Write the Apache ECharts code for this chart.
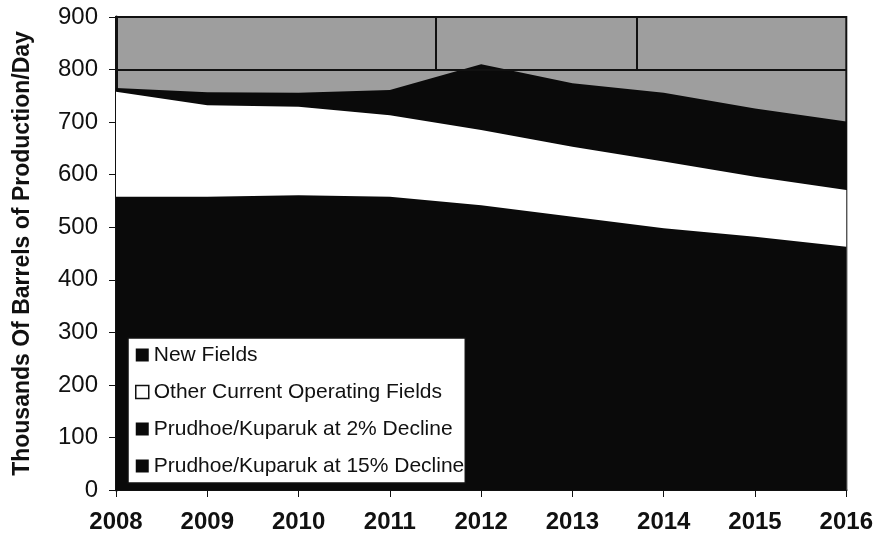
<!DOCTYPE html>
<html>
<head>
<meta charset="utf-8">
<script src="https://cdn.jsdelivr.net/npm/echarts@6/dist/echarts.min.js"></script>
<style>
  html, body { margin: 0; padding: 0; background: #fff; }
  #chart { width: 876px; height: 548px; }
</style>
</head>
<body>
<div id="chart"></div>
<script>
var years = [2008, 2009, 2010, 2011, 2012, 2013, 2014, 2015, 2016];
// stacked amounts, thousands of barrels / day
var prudhoe2 = [558, 558, 561, 558, 542, 520, 498, 482, 463];
var otherFields = [200, 174, 168, 155, 143, 133, 127, 114, 108];
var newFields = [7, 25, 27, 48, 125, 121, 131, 130, 130];
var prudhoe15 = [];
var yTicks = [0, 100, 200, 300, 400, 500, 600, 700, 800, 900];

// running totals so each band can be drawn as a filled area from zero
function addUp(a, b){
    return a.map(function(v, i){ return v + b[i]; });
}
var topOther = addUp(prudhoe2, otherFields);
var topNew = addUp(topOther, newFields);

function pairs(vals){
    return vals.map(function(v, i){ return [years[i], v]; });
}

var font = 'Liberation Sans, Arial, sans-serif';

function area(name, vals, color){
    return {
        name: name,
        type: 'line',
        data: pairs(vals),
        symbol: 'none',
        lineStyle: { width: 0, color: color },
        itemStyle: { color: color },
        areaStyle: { color: color, opacity: 1, origin: 'start' },
        emphasis: { disabled: true }
    };
}

var chartDom = document.getElementById('chart');
var myChart = echarts.init(chartDom);

var topBand = area('New Fields', topNew, '#0a0a0a');
topBand.markLine = {
    silent: true,
    symbol: 'none',
    label: { show: false },
    lineStyle: { color: '#111', width: 2, type: 'solid' },
    data: [
        { yAxis: 800 },
        [{ coord: [2011.5, 800] }, { coord: [2011.5, 900] }],
        [{ coord: [2013.7, 800] }, { coord: [2013.7, 900] }]
    ]
};

var option = {
    animation: false,
    grid: {
        left: 116, right: 25, top: 17, bottom: 58,
        show: true,
        backgroundColor: '#9e9e9e',
        borderColor: '#111',
        borderWidth: 2
    },
    legend: {
        orient: 'vertical',
        left: 128,
        top: 338,
        padding: [6, 1, 6, 7],
        backgroundColor: '#fff',
        borderColor: '#111',
        borderWidth: 1.5,
        borderRadius: 0,
        itemWidth: 13,
        itemHeight: 13,
        itemGap: 15,
        icon: 'rect',
        textStyle: { fontFamily: font, fontSize: 21, lineHeight: 22, color: '#111' },
        data: [
            { name: 'New Fields', itemStyle: { color: '#0a0a0a' } },
            { name: 'Other Current Operating Fields', itemStyle: { color: '#fff', borderColor: '#111', borderWidth: 1.5 } },
            { name: 'Prudhoe/Kuparuk at 2% Decline', itemStyle: { color: '#0a0a0a' } },
            { name: 'Prudhoe/Kuparuk at 15% Decline', itemStyle: { color: '#0a0a0a' } }
        ]
    },
    xAxis: {
        type: 'value',
        min: years[0],
        max: years[years.length - 1],
        interval: 1,
        splitLine: { show: false },
        axisLine: { show: true, lineStyle: { color: '#111', width: 2 } },
        axisTick: { show: true, length: 7, lineStyle: { color: '#111' } },
        axisLabel: {
            margin: 20,
            fontFamily: font, fontSize: 24, fontWeight: 'bold', color: '#111',
            formatter: function(v){ return String(v); }
        }
    },
    yAxis: {
        type: 'value',
        min: yTicks[0],
        max: yTicks[yTicks.length - 1],
        interval: 100,
        name: 'Thousands Of Barrels of Production/Day',
        nameLocation: 'middle',
        nameGap: 82,
        nameRotate: 90,
        nameTextStyle: { fontFamily: font, fontSize: 23, fontWeight: 'bold', color: '#111' },
        splitLine: { show: false },
        axisLine: { show: true, lineStyle: { color: '#111', width: 3 } },
        axisTick: { show: true, length: 7, lineStyle: { color: '#111' } },
        axisLabel: { margin: 18, fontFamily: font, fontSize: 24, color: '#111' }
    },
    series: [
        topBand,
        area('Other Current Operating Fields', topOther, '#ffffff'),
        area('Prudhoe/Kuparuk at 2% Decline', prudhoe2, '#0a0a0a'),
        {
            name: 'Prudhoe/Kuparuk at 15% Decline',
            type: 'line',
            data: pairs(prudhoe15),
            symbol: 'none',
            itemStyle: { color: '#0a0a0a' },
            lineStyle: { color: '#0a0a0a' }
        }
    ]
};

myChart.setOption(option);
</script>
</body>
</html>
